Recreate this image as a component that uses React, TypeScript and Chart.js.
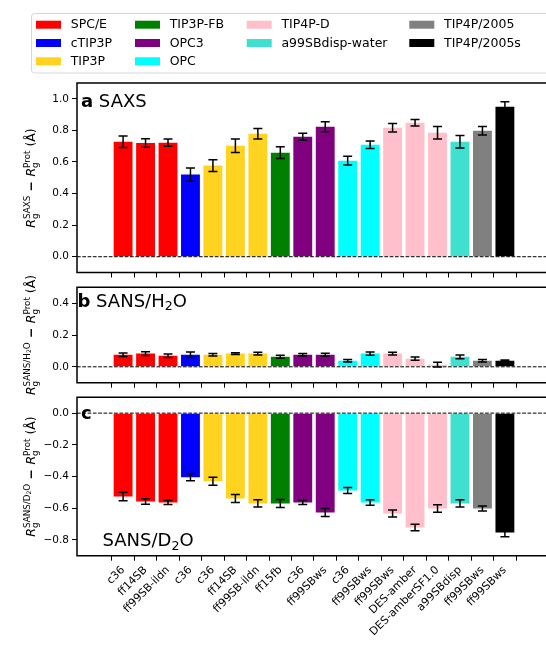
import React, { useEffect, useRef } from 'react';
import { Chart, registerables } from 'chart.js';

Chart.register(...registerables);

const W = 546;
const H = 649;
const FONT = '"DejaVu Sans", "Liberation Sans", sans-serif';

// Force field used with each water model, one bar per combination
const forceFields = [
  'c36', 'ff14SB', 'ff99SB-ildn', 'c36', 'c36', 'ff14SB', 'ff99SB-ildn', 'ff15fb', 'c36',
  'ff99SBws', 'c36', 'ff99SBws', 'ff99SBws', 'DES-amber', 'DES-amberSF1.0', 'a99SBdisp',
  'ff99SBws', 'ff99SBws',
];
const waterModels = [
  'SPC/E', 'SPC/E', 'SPC/E', 'cTIP3P', 'TIP3P', 'TIP3P', 'TIP3P', 'TIP3P-FB', 'OPC3',
  'OPC3', 'OPC', 'OPC', 'TIP4P-D', 'TIP4P-D', 'TIP4P-D', 'a99SBdisp-water',
  'TIP4P/2005', 'TIP4P/2005s',
];

const legendModels = [
  'SPC/E', 'cTIP3P', 'TIP3P', 'TIP3P-FB', 'OPC3', 'OPC', 'TIP4P-D', 'a99SBdisp-water',
  'TIP4P/2005', 'TIP4P/2005s',
];
const legendColors = [
  '#ff0000', '#0000ff', '#ffd31f', '#008000', '#800080', '#00ffff', '#ffc0cb', '#40e0d0',
  '#808080', '#000000',
];

// Rg differences (Å) with their uncertainties
const saxsMean = [0.728, 0.72, 0.722, 0.52, 0.577, 0.703, 0.779, 0.659, 0.76, 0.823, 0.608, 0.709, 0.817, 0.848, 0.785, 0.728, 0.798, 0.949];
const saxsErr = [0.036, 0.027, 0.023, 0.042, 0.037, 0.043, 0.033, 0.037, 0.022, 0.031, 0.028, 0.024, 0.027, 0.021, 0.04, 0.039, 0.027, 0.033];

const sansH2OMean = [0.076, 0.083, 0.07, 0.076, 0.076, 0.083, 0.083, 0.063, 0.076, 0.076, 0.038, 0.083, 0.083, 0.051, 0.013, 0.063, 0.038, 0.038];
const sansH2OErr = [0.011, 0.012, 0.011, 0.017, 0.008, 0.005, 0.008, 0.01, 0.008, 0.01, 0.008, 0.01, 0.008, 0.01, 0.015, 0.012, 0.008, 0.005];

const sansD2OMean = [-0.526, -0.558, -0.564, -0.404, -0.43, -0.539, -0.57, -0.57, -0.564, -0.627, -0.488, -0.564, -0.634, -0.722, -0.602, -0.57, -0.602, -0.754];
const sansD2OErr = [0.027, 0.017, 0.013, 0.023, 0.025, 0.025, 0.023, 0.025, 0.013, 0.025, 0.019, 0.017, 0.022, 0.021, 0.024, 0.023, 0.016, 0.026];

const saxsTicks = [0, 0.2, 0.4, 0.6, 0.8, 1.0];
const sansH2OTicks = [0, 0.2, 0.4];
const sansD2OTicks = [0, -0.2, -0.4, -0.6, -0.8];

// shared horizontal layout
const AX_LEFT = 77;
const X_MIN = -1.472;
const X_MAX = 18.25;

type Piece = {
  text: string;
  scale?: number;
  dy?: number;
  italic?: boolean;
  bold?: boolean;
  noAdvance?: boolean;
};

function pieceFont(p: Piece, size: number) {
  return `${p.italic ? 'italic ' : ''}${p.bold ? 'bold ' : ''}${(size * (p.scale ?? 1)).toFixed(2)}px ${FONT}`;
}

function richWidth(ctx: CanvasRenderingContext2D, pieces: Piece[], size: number) {
  let w = 0;
  let pending = 0;
  for (const p of pieces) {
    ctx.font = pieceFont(p, size);
    const pw = ctx.measureText(p.text).width;
    if (p.noAdvance) {
      pending = Math.max(pending, pw);
    } else {
      w += Math.max(pw, pending);
      pending = 0;
    }
  }
  return w + pending;
}

function drawRich(
  ctx: CanvasRenderingContext2D,
  pieces: Piece[],
  size: number,
  x: number,
  y: number,
  center: boolean,
  rotate: boolean,
) {
  ctx.save();
  ctx.translate(x, y);
  if (rotate) ctx.rotate(-Math.PI / 2);
  ctx.fillStyle = '#000';
  ctx.textBaseline = 'alphabetic';
  ctx.textAlign = 'left';
  let cx = center ? -richWidth(ctx, pieces, size) / 2 : 0;
  let pending = 0;
  for (const p of pieces) {
    ctx.font = pieceFont(p, size);
    const pw = ctx.measureText(p.text).width;
    ctx.fillText(p.text, cx, (p.dy ?? 0) * size);
    if (p.noAdvance) {
      pending = Math.max(pending, pw);
    } else {
      cx += Math.max(pw, pending);
      pending = 0;
    }
  }
  ctx.restore();
}

const SUB = 0.22;
const SUP = -0.42;
const SS = 0.7;

function yLabel(sup: Piece[]): Piece[] {
  return [
    { text: 'R', italic: true },
    { text: 'g', scale: SS, dy: SUB, noAdvance: true },
    ...sup,
    { text: ' − ', bold: true },
    { text: 'R', italic: true },
    { text: 'g', scale: SS, dy: SUB, noAdvance: true },
    { text: 'Prot', scale: SS, dy: SUP },
    { text: ' (Å)' },
  ];
}

type PanelSpec = {
  mean: number[];
  err: number[];
  yMin: number;
  yMax: number;
  yTicks: number[];
  top: number;
  bottom: number;
  showX: boolean;
  legend: boolean;
  labels: { pieces: Piece[]; x: number; y: number; size: number }[];
  yTitle: Piece[];
  yTitleCenter: number;
};

const panels: PanelSpec[] = [
  {
    mean: saxsMean,
    err: saxsErr,
    yMin: -0.1,
    yMax: 1.1,
    yTicks: saxsTicks,
    top: 83,
    bottom: 272.5,
    showX: false,
    legend: true,
    labels: [{ pieces: [{ text: 'a', bold: true }, { text: ' SAXS' }], x: 81, y: 107, size: 18 }],
    yTitle: yLabel([{ text: 'SAXS', scale: SS, dy: SUP }]),
    yTitleCenter: 178,
  },
  {
    mean: sansH2OMean,
    err: sansH2OErr,
    yMin: -0.1,
    yMax: 0.5,
    yTicks: sansH2OTicks,
    top: 287.3,
    bottom: 382.7,
    showX: false,
    legend: false,
    labels: [
      {
        pieces: [
          { text: 'b', bold: true },
          { text: ' SANS/H' },
          { text: '2', scale: 0.7, dy: 0.2 },
          { text: 'O' },
        ],
        x: 77.5,
        y: 306.7,
        size: 18,
      },
    ],
    yTitle: yLabel([
      { text: 'SANS/H', scale: SS, dy: SUP },
      { text: '2', scale: SS * 0.7, dy: SUP + 0.12 },
      { text: 'O', scale: SS, dy: SUP },
    ]),
    yTitleCenter: 335,
  },
  {
    mean: sansD2OMean,
    err: sansD2OErr,
    yMin: -0.9,
    yMax: 0.1,
    yTicks: sansD2OTicks,
    top: 397.3,
    bottom: 555.7,
    showX: true,
    legend: false,
    labels: [
      { pieces: [{ text: 'c', bold: true }], x: 81, y: 419.3, size: 18 },
      {
        pieces: [{ text: 'SANS/D' }, { text: '2', scale: 0.7, dy: 0.2 }, { text: 'O' }],
        x: 102.5,
        y: 546,
        size: 18,
      },
    ],
    yTitle: yLabel([
      { text: 'SANS/D', scale: SS, dy: SUP },
      { text: '2', scale: SS * 0.7, dy: SUP + 0.12 },
      { text: 'O', scale: SS, dy: SUP },
    ]),
    yTitleCenter: 476.5,
  },
];

const colorOf = (m: string) => legendColors[legendModels.indexOf(m)];

// legend grid: column-major, 3 rows
const legendColX = [36, 135, 246.7, 409.3];
const legendRowY = [24.7, 43, 61.3];
const legendColumns = [
  [0, 1, 2],
  [3, 4, 5],
  [6, 7],
  [8, 9],
];

function drawLegend(ctx: CanvasRenderingContext2D) {
  ctx.save();
  const x = 31.5;
  const y = 13.5;
  const w = 560;
  const h = 59.5;
  const r = 3;
  ctx.beginPath();
  ctx.moveTo(x + r, y);
  ctx.lineTo(x + w, y);
  ctx.lineTo(x + w, y + h);
  ctx.lineTo(x + r, y + h);
  ctx.arcTo(x, y + h, x, y + h - r, r);
  ctx.lineTo(x, y + r);
  ctx.arcTo(x, y, x + r, y, r);
  ctx.closePath();
  ctx.fillStyle = 'rgba(255,255,255,0.8)';
  ctx.fill();
  ctx.strokeStyle = '#d6d6d6';
  ctx.lineWidth = 1;
  ctx.stroke();
  ctx.font = `12.5px ${FONT}`;
  ctx.textBaseline = 'middle';
  ctx.textAlign = 'left';
  legendColumns.forEach((col, ci) => {
    col.forEach((idx, ri) => {
      const px = legendColX[ci];
      const py = legendRowY[ri];
      ctx.fillStyle = legendColors[idx];
      ctx.fillRect(px, py - 4, 25, 8);
      ctx.fillStyle = '#000';
      ctx.fillText(legendModels[idx], px + 34.7, py + 0.5);
    });
  });
  ctx.restore();
}

function makePlugin(spec: PanelSpec) {
  return {
    id: 'panelDecor',
    afterDatasetsDraw(chart: any) {
      const { ctx, chartArea } = chart;
      const xs = chart.scales.x;
      const ys = chart.scales.y;
      ctx.save();
      // zero reference line
      ctx.strokeStyle = '#000';
      ctx.lineWidth = 1;
      ctx.setLineDash([3.7, 1.6]);
      const y0 = ys.getPixelForValue(0);
      ctx.beginPath();
      ctx.moveTo(chartArea.left, y0);
      ctx.lineTo(chartArea.right, y0);
      ctx.stroke();
      ctx.setLineDash([]);
      // error bars
      ctx.lineWidth = 1.5;
      spec.mean.forEach((m, i) => {
        const px = xs.getPixelForValue(i);
        const yt = ys.getPixelForValue(m + spec.err[i]);
        const yb = ys.getPixelForValue(m - spec.err[i]);
        ctx.beginPath();
        ctx.moveTo(px, yt);
        ctx.lineTo(px, yb);
        ctx.moveTo(px - 4.5, yt);
        ctx.lineTo(px + 4.5, yt);
        ctx.moveTo(px - 4.5, yb);
        ctx.lineTo(px + 4.5, yb);
        ctx.stroke();
      });
      ctx.restore();
    },
    afterDraw(chart: any) {
      const { ctx, chartArea } = chart;
      ctx.save();
      ctx.strokeStyle = '#000';
      ctx.lineWidth = 1.5;
      ctx.beginPath();
      ctx.moveTo(chartArea.right + 2, chartArea.top);
      ctx.lineTo(chartArea.left, chartArea.top);
      ctx.lineTo(chartArea.left, chartArea.bottom);
      ctx.lineTo(chartArea.right + 2, chartArea.bottom);
      ctx.stroke();
      ctx.restore();
      spec.labels.forEach((l) => drawRich(ctx, l.pieces, l.size, l.x, l.y, false, false));
      drawRich(ctx, spec.yTitle, 12.5, 35, spec.yTitleCenter, true, true);
      if (spec.legend) drawLegend(ctx);
    },
  };
}

function fmtTick(v: number) {
  const s = Math.abs(v) < 1e-9 ? '0.0' : v.toFixed(1);
  return s.replace('-', '\u2212');
}

function Panel({ spec }: { spec: PanelSpec }) {
  const ref = useRef<HTMLCanvasElement | null>(null);
  useEffect(() => {
    if (!ref.current) return;
    const tickGrid = {
      drawOnChartArea: false,
      drawTicks: true,
      tickLength: 5,
      color: '#000',
      lineWidth: 1,
    };
    const chart = new Chart(ref.current, {
      type: 'bar',
      data: {
        datasets: [
          {
            data: spec.mean.map((v, i) => ({ x: i, y: v })),
            backgroundColor: waterModels.map(colorOf),
            borderWidth: 0,
            barPercentage: 0.84,
            categoryPercentage: 1,
          },
        ],
      },
      options: {
        responsive: false,
        animation: false,
        events: [],
        layout: { padding: { top: spec.top, left: 0, right: 0, bottom: 0 } },
        plugins: { legend: { display: false }, tooltip: { enabled: false } },
        scales: {
          x: {
            type: 'linear',
            min: X_MIN,
            max: X_MAX,
            afterFit: (s: any) => {
              s.height = H - spec.bottom;
            },
            afterBuildTicks: (s: any) => {
              s.ticks = forceFields.map((_, i) => ({ value: i }));
            },
            grid: tickGrid,
            border: { display: false },
            ticks: {
              autoSkip: false,
              minRotation: 45,
              maxRotation: 45,
              padding: 3,
              color: '#000',
              font: { family: FONT, size: 11 },
              callback: (v: any) => (spec.showX ? forceFields[Math.round(Number(v))] : ''),
            },
          },
          y: {
            type: 'linear',
            min: spec.yMin,
            max: spec.yMax,
            afterFit: (s: any) => {
              s.width = AX_LEFT;
            },
            afterBuildTicks: (s: any) => {
              s.ticks = spec.yTicks.map((v) => ({ value: v }));
            },
            grid: tickGrid,
            border: { display: false },
            ticks: {
              padding: 3,
              color: '#000',
              font: { family: FONT, size: 10.5 },
              callback: (v: any) => fmtTick(Number(v)),
            },
          },
        },
      } as any,
      plugins: [makePlugin(spec)],
    });
    return () => chart.destroy();
  }, [spec]);
  return (
    <canvas
      ref={ref}
      width={W}
      height={H}
      style={{ position: 'absolute', left: 0, top: 0, width: W, height: H }}
    />
  );
}

export default function App() {
  return (
    <div
      style={{
        position: 'fixed',
        left: 0,
        top: 0,
        width: W,
        height: H,
        background: '#fff',
        overflow: 'hidden',
      }}
    >
      {panels.map((p, i) => (
        <Panel key={i} spec={p} />
      ))}
    </div>
  );
}
